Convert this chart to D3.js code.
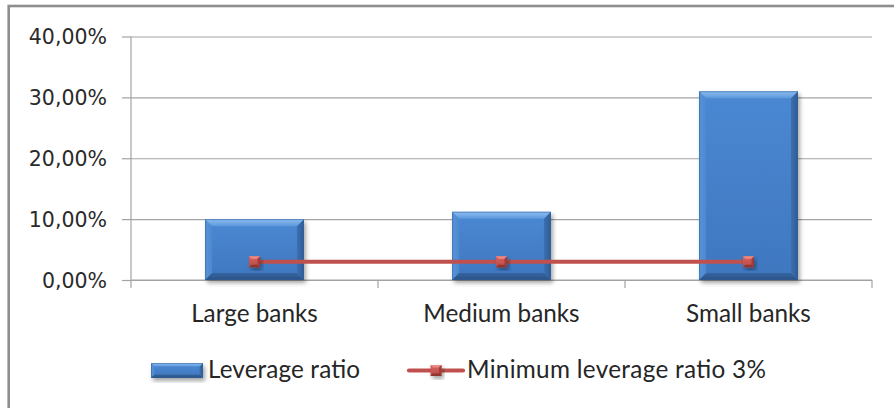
<!DOCTYPE html>
<html>
<head>
<meta charset="utf-8">
<script src="https://cdn.jsdelivr.net/npm/d3@7"></script>
<style>
  html, body { margin: 0; padding: 0; background: #fff; }
  svg { display: block; }
</style>
</head>
<body>
<svg id="chart" width="894" height="408"></svg>
<script>
// Leverage ratio by bank size, against the 3% regulatory minimum
const categories = ["Large banks", "Medium banks", "Small banks"];
const leverageRatio = [0.100, 0.112, 0.310];
const minimumRatio = [0.03, 0.03, 0.03];
const yTicks = [0, 0.10, 0.20, 0.30, 0.40];
const seriesNames = ["Leverage ratio", "Minimum leverage ratio 3%"];

const svg = d3.select("#chart");
const W = 894, H = 408;
const plot = { left: 131, right: 872, top: 36.5, bottom: 280 };

const x = d3.scaleBand().domain(categories)
  .range([plot.left, plot.right]).paddingInner(0.6).paddingOuter(0.3);
const y = d3.scaleLinear().domain([0, 0.4]).range([plot.bottom, plot.top]);
const fmt = v => d3.format(".2f")(v * 100).replace(".", ",") + "%";

const defs = svg.append("defs");
const shadow = defs.append("filter").attr("id", "shadow")
  .attr("x", "-20%").attr("y", "-20%").attr("width", "150%").attr("height", "150%");
shadow.append("feDropShadow").attr("dx", 2).attr("dy", 3)
  .attr("stdDeviation", 2.2).attr("flood-color", "#000").attr("flood-opacity", 0.35);

function linGrad(id, x2, y2, stops) {
  const g = defs.append("linearGradient").attr("id", id)
    .attr("x1", 0).attr("y1", 0).attr("x2", x2).attr("y2", y2);
  stops.forEach(([o, c]) => g.append("stop").attr("offset", o).attr("stop-color", c));
}
linGrad("barFace", 0, 1, [[0, "#4b88d3"], [1, "#3f77bf"]]);
linGrad("barTop", 0, 1, [[0, "#8dbdf0"], [1, "#5c98dd"]]);
linGrad("barBottom", 0, 1, [[0, "#35659f"], [1, "#2a5287"]]);
linGrad("barLeft", 1, 0, [[0, "#5a94d8"], [1, "#4c88d0"]]);
linGrad("barRight", 1, 0, [[0, "#3c70b0"], [1, "#2f5c96"]]);
linGrad("mkFace", 0, 1, [[0, "#d9625e"], [1, "#b84a47"]]);

// Outer frame
svg.append("rect").attr("x", 8.7).attr("y", 6).attr("width", W).attr("height", H)
  .attr("fill", "#fff").attr("stroke", "#8e8e8e").attr("stroke-width", 2.6);

// Gridlines and y axis
const gridColor = "#a3a3a3";
const textColor = "#262626";
const yAxis = d3.axisLeft(y).tickValues(yTicks).tickFormat(fmt)
  .tickSize(plot.right - plot.left).tickPadding(0);
const gy = svg.append("g").attr("transform", `translate(${plot.right},0)`).call(yAxis);
gy.select(".domain").remove();
gy.selectAll(".tick line").attr("stroke", gridColor).attr("stroke-width", 1.2);
gy.selectAll(".tick").append("line")
  .attr("x1", -(plot.right - plot.left)).attr("x2", -(plot.right - plot.left) - 9)
  .attr("stroke", gridColor).attr("stroke-width", 1.2);
gy.selectAll(".tick text")
  .attr("x", -(plot.right - plot.left) - 24)
  .attr("dy", "0.36em")
  .style("font-family", "'DejaVu Sans', Verdana, sans-serif")
  .style("font-size", "20.5px").attr("fill", "#2a2a2a");

svg.append("line").attr("x1", plot.left).attr("x2", plot.left)
  .attr("y1", plot.top).attr("y2", plot.bottom)
  .attr("stroke", gridColor).attr("stroke-width", 1.2);

// X axis with tick marks between categories
const edges = [plot.left].concat(categories.map(c => x(c) + x.bandwidth() + x.step() * x.paddingInner() / 2));
edges[edges.length - 1] = plot.right;
svg.append("line").attr("x1", plot.left).attr("x2", plot.right)
  .attr("y1", plot.bottom).attr("y2", plot.bottom)
  .attr("stroke", gridColor).attr("stroke-width", 1.2);
svg.selectAll(".xtick").data(edges).join("line").attr("class", "xtick")
  .attr("x1", d => d).attr("x2", d => d)
  .attr("y1", plot.bottom).attr("y2", plot.bottom + 8)
  .attr("stroke", gridColor).attr("stroke-width", 1.2);

const labelFont = "Lato, 'Open Sans', sans-serif";
svg.selectAll(".xlabel").data(categories).join("text").attr("class", "xlabel")
  .attr("x", d => x(d) + x.bandwidth() / 2).attr("y", 322)
  .attr("text-anchor", "middle")
  .style("font-family", labelFont).style("font-size", "24.3px").attr("fill", textColor)
  .text(d => d);

// Bevelled bar: four slanted edges around a flat face
function bevelBar(g, x0, y0, x1, y1, b) {
  const P = pts => pts.map(p => p.join(",")).join(" ");
  g.append("rect").attr("x", x0).attr("y", y0).attr("width", x1 - x0).attr("height", y1 - y0)
    .attr("fill", "url(#barFace)");
  g.append("polygon").attr("points", P([[x0, y0], [x0 + b, y0 + b], [x0 + b, y1 - b], [x0, y1]]))
    .attr("fill", "url(#barLeft)");
  g.append("polygon").attr("points", P([[x1, y0], [x1 - b, y0 + b], [x1 - b, y1 - b], [x1, y1]]))
    .attr("fill", "url(#barRight)");
  g.append("polygon").attr("points", P([[x0, y0], [x1, y0], [x1 - b, y0 + b], [x0 + b, y0 + b]]))
    .attr("fill", "url(#barTop)");
  g.append("polygon").attr("points", P([[x0, y1], [x1, y1], [x1 - b, y1 - b], [x0 + b, y1 - b]]))
    .attr("fill", "url(#barBottom)");
  g.append("rect").attr("x", x0 + 0.5).attr("y", y0 + 0.5).attr("width", x1 - x0 - 1).attr("height", y1 - y0 - 1)
    .attr("fill", "none").attr("stroke", "#2f5d95").attr("stroke-opacity", 0.5).attr("stroke-width", 1);
}

const bars = svg.append("g");
leverageRatio.forEach((v, i) => {
  const g = bars.append("g").attr("filter", "url(#shadow)");
  bevelBar(g, x(categories[i]), y(v), x(categories[i]) + x.bandwidth(), y(0), 7);
});

// Minimum ratio line with square markers
function marker(g, cx, cy, s) {
  const h = s / 2, b = 2.5;
  const P = pts => pts.map(p => p.join(",")).join(" ");
  const m = g.append("g").attr("filter", "url(#shadow)");
  m.append("rect").attr("x", cx - h).attr("y", cy - h).attr("width", s).attr("height", s).attr("fill", "url(#mkFace)");
  m.append("polygon").attr("points", P([[cx - h, cy - h], [cx + h, cy - h], [cx + h - b, cy - h + b], [cx - h + b, cy - h + b]])).attr("fill", "#ea8a86");
  m.append("polygon").attr("points", P([[cx - h, cy + h], [cx + h, cy + h], [cx + h - b, cy + h - b], [cx - h + b, cy + h - b]])).attr("fill", "#8e3431");
  m.append("polygon").attr("points", P([[cx + h, cy - h], [cx + h, cy + h], [cx + h - b, cy + h - b], [cx + h - b, cy - h + b]])).attr("fill", "#a03d3a");
}

const cx = i => x(categories[i]) + x.bandwidth() / 2;
const line = d3.line().x((d, i) => cx(i)).y(d => y(d));
svg.append("path").datum(minimumRatio).attr("d", line)
  .attr("fill", "none").attr("stroke", "#c0504d").attr("stroke-width", 4.2);
const mk = svg.append("g");
minimumRatio.forEach((v, i) => marker(mk, cx(i), y(v), 11));

// Legend
const leg = svg.append("g");
const sw = leg.append("g").attr("filter", "url(#shadow)");
bevelBar(sw, 151, 363, 203, 378, 3.5);
leg.append("text").attr("x", 208).attr("y", 378)
  .attr("textLength", 152).attr("lengthAdjust", "spacing")
  .style("font-family", labelFont).style("font-size", "24.3px").attr("fill", textColor)
  .text(seriesNames[0]);
leg.append("line").attr("x1", 409).attr("x2", 463).attr("y1", 370.5).attr("y2", 370.5)
  .attr("stroke", "#c0504d").attr("stroke-width", 4.2).attr("stroke-linecap", "round");
marker(leg, 436, 370.5, 11);
leg.append("text").attr("x", 467).attr("y", 378)
  .attr("textLength", 299).attr("lengthAdjust", "spacing")
  .style("font-family", labelFont).style("font-size", "24.3px").attr("fill", textColor)
  .text(seriesNames[1]);
</script>
</body>
</html>
